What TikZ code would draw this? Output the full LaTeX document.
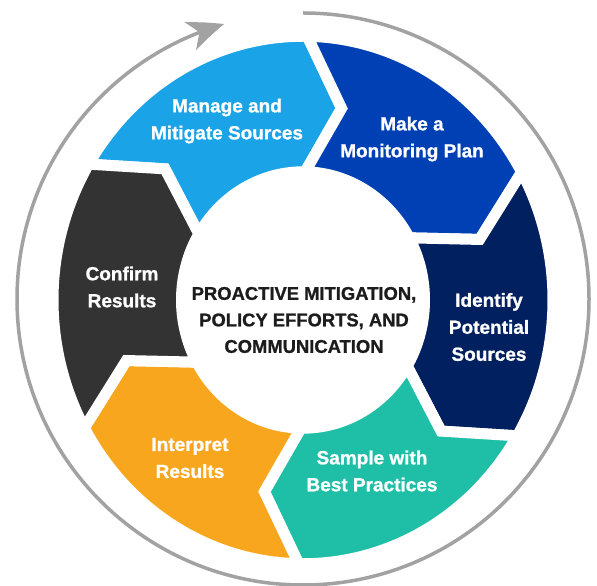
\documentclass[tikz,border=0pt]{standalone}
\usepackage{fontspec}
\setmainfont{Liberation Sans}[BoldFeatures={FakeBold=1}]
\usetikzlibrary{arrows.meta,bending}
\definecolor{skyblue}{HTML}{1BA3E8}
\definecolor{cobalt}{HTML}{0040B5}
\definecolor{midnight}{HTML}{00205F}
\definecolor{seafoam}{HTML}{1EBFA6}
\definecolor{amber}{HTML}{F8A61E}
\definecolor{charcoal}{HTML}{333333}
\definecolor{ringgray}{HTML}{A2A2A2}
\definecolor{inkblack}{HTML}{1C1C1C}

\begin{document}
\begin{tikzpicture}[x=1pt, y=1pt,
    seglabel/.style={text=white, font=\bfseries\fontsize{19}{27}\selectfont, align=center, inner sep=0pt},
    centerlabel/.style={text=inkblack, font=\bfseries\fontsize{18.4}{26.5}\selectfont, align=center, inner sep=0pt}]
    \useasboundingbox (0,0) rectangle (597,586);

    % Outer cycle arrow
    \draw[line width=3.5pt, ringgray, -{Stealth[length=36pt, width=30pt, inset=10pt, bend]}]
        (303,287) ++(90:286) arc[start angle=90, end angle=-254, radius=286];

    % Ring of chevron segments, each running clockwise from \a to \a-60
    \begin{scope}[shift={(303,286)}, yscale=1.055]
        \foreach \a/\col in {149/skyblue, 89/cobalt, 29/midnight, -31/seafoam, -91/amber, -151/charcoal} {
            \pgfmathsetmacro{\b}{\a-60}
            \filldraw[fill=\col, draw=white, line width=11pt, line join=miter]
                (\a:250) arc[start angle=\a, end angle=\b, radius=250]
                -- (\b-11:185.75) -- (\b:121.5)
                arc[start angle=\b, end angle=\a, radius=121.5]
                -- (\a-11:185.75) -- cycle;
        }
    \end{scope}

    % Labels
    \node[seglabel] (manage) at (227,465) {Manage and\\Mitigate Sources};
    \node[seglabel] (plan) at (412,447) {Make a\\Monitoring Plan};
    \node[seglabel] (identify) at (489,259) {Identify\\Potential\\Sources};
    \node[seglabel] (sample) at (372,115) {Sample with\\Best Practices};
    \node[seglabel] (interpret) at (190,128) {Interpret\\Results};
    \node[seglabel] (confirm) at (122,299) {Confirm\\Results};
    \node[centerlabel] (focus) at (304,266) {PROACTIVE MITIGATION,\\POLICY EFFORTS, AND\\COMMUNICATION};
\end{tikzpicture}
\end{document}
